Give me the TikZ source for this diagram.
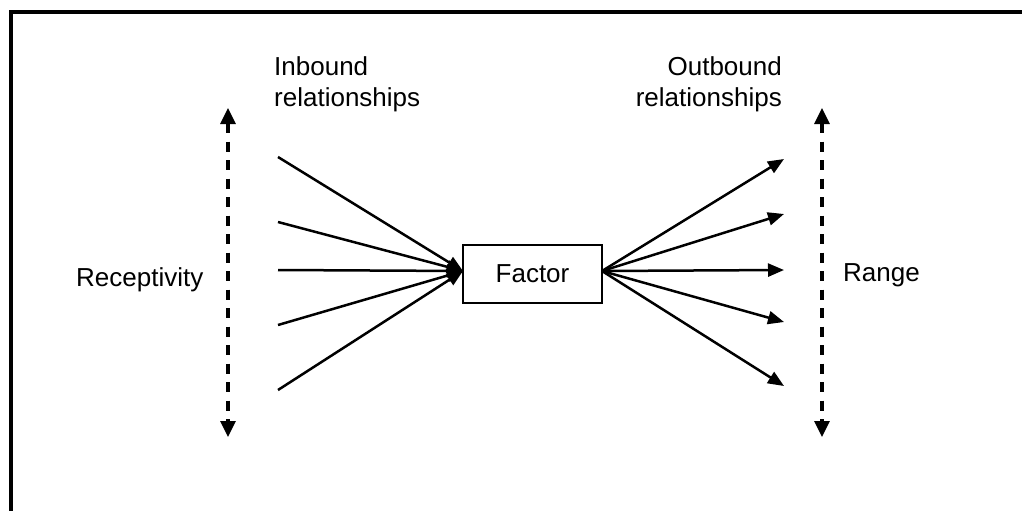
\documentclass[tikz,border=0pt]{standalone}
\usepackage{fontspec}
\setmainfont{Liberation Sans}
\usetikzlibrary{arrows.meta}
\begin{document}
\begin{tikzpicture}[x=1pt,y=-1pt,
  lbl/.style={inner sep=0pt,font=\fontsize{26}{31}\selectfont},
  rel/.style={line width=2.5pt,-{Triangle[length=16pt,width=13pt]}},
  spanarrow/.style={line width=3.2pt,dash pattern=on 10pt off 8.5pt,
    {Triangle[length=16pt,width=15pt]}-{Triangle[length=16pt,width=15pt]}},
  factorbox/.style={draw,line width=1.9pt,minimum width=139pt,minimum height=58pt,inner sep=0pt,font=\fontsize{26}{31}\selectfont}]
\useasboundingbox (0,0) rectangle (1022,511);
% frame (cropped)
\draw[line width=4pt] (10.5,513) -- (10.5,12.3) -- (1024,12.3);
% factor
\node[factorbox] (f) at (532.5,274) {Factor};
% labels
\node[lbl,anchor=north west,align=left] (inb) at (274,56.5) {Inbound\\relationships};
\node[lbl,anchor=north east,align=right] (outb) at (782,56.5) {Outbound\\relationships};
\node[lbl,anchor=base west] (rec) at (76,286) {Receptivity};
\node[lbl,anchor=base west] (rng) at (843,281) {Range};
% span arrows
\coordinate (lt) at (228,108);
\coordinate (lb) at (228,437);
\coordinate (rt) at (822,108);
\coordinate (rb) at (822,437);
\draw[spanarrow] (lt) -- (lb);
\draw[spanarrow] (rt) -- (rb);
% inbound
\coordinate (f-in) at (463,271);
\foreach \y [count=\i] in {157,222,270,325,390}{
  \coordinate (i\i) at (278,\y);
  \draw[rel] (i\i) -- (f-in);
}
% outbound
\coordinate (f-out) at (602,271);
\foreach \y [count=\i] in {159,214,270,322,386}{
  \coordinate (o\i) at (784,\y);
  \draw[rel] (f-out) -- (o\i);
}
\end{tikzpicture}
\end{document}
